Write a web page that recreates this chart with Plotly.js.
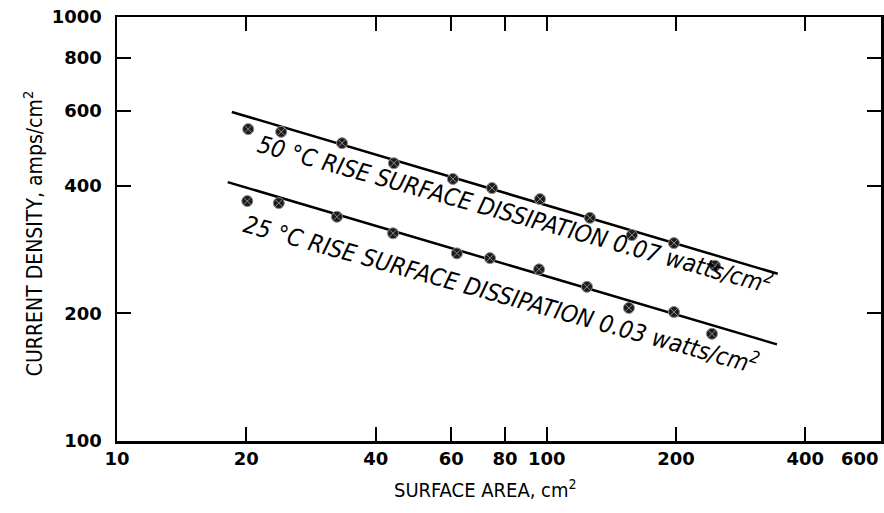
<!DOCTYPE html>
<html>
<head>
<meta charset="utf-8">
<script src="https://cdn.plot.ly/plotly-3.0.1.min.js"></script>
<style>html,body{margin:0;padding:0;background:#fff;}#chart{width:884px;height:513px;}</style>
</head>
<body>
<div id="chart"></div>
<script>
// Surface area (cm^2) and current density (amps/cm^2)
var area50 = [20.2, 24.1, 33.4, 44.1, 60.5, 74.6, 96.5, 126.1, 157.9, 197.8, 246.4];
var density50 = [544, 536, 504, 452, 415, 395, 372, 336, 306, 293, 259];
var area25 = [20.1, 23.8, 32.5, 43.9, 61.8, 73.8, 96.0, 124.1, 155.4, 197.8, 242.5];
var density25 = [368, 364, 338, 309, 277, 270, 254, 231, 206, 201.5, 179];
// Fitted straight lines (end points)
var fitArea50 = [18.5, 345];
var fitDensity50 = [597, 248];
var fitArea25 = [18.1, 343.6];
var fitDensity25 = [408, 169];

var xTickVals = [10, 20, 40, 60, 80, 100, 200, 400, 600];
var xTickText = ['10', '20', '40', '60', '80', '100', '200', '400', ''];
var xLastTick = 600;
var xLastText = '600';
var yTickVals = [100, 200, 400, 600, 800, 1000];
var yTickText = ['100', '200', '400', '600', '800', '1000'];

var label50 = '50 \u00B0C RISE SURFACE DISSIPATION 0.07 watts/cm<sup>2</sup>';
var label25 = '25 \u00B0C RISE SURFACE DISSIPATION 0.03 watts/cm<sup>2</sup>';
var xTitle = 'SURFACE AREA, cm<sup>2</sup>';
var yTitle = 'CURRENT DENSITY, amps/cm<sup>2</sup>';

var narrow = 'DejaVu Sans Condensed, Liberation Sans Narrow, sans-serif';
var tickFont = {family: 'DejaVu Sans, sans-serif', size: 18, color: '#000', weight: 'bold'};

var markerStyle = {symbol: 'circle-x', size: 11, color: '#1c1c1c', line: {color: '#8a8a8a', width: 1}};

var traces = [
  {x: fitArea50, y: fitDensity50, mode: 'lines', line: {color: '#000', width: 2.5}, hoverinfo: 'skip'},
  {x: fitArea25, y: fitDensity25, mode: 'lines', line: {color: '#000', width: 2.5}, hoverinfo: 'skip'},
  {x: area50, y: density50, mode: 'markers', marker: markerStyle},
  {x: area25, y: density25, mode: 'markers', marker: markerStyle}
];

var layout = {
  width: 884, height: 513,
  margin: {l: 117, r: 3, t: 17, b: 72},
  paper_bgcolor: '#fff', plot_bgcolor: '#fff',
  showlegend: false,
  xaxis: {
    type: 'log', range: [1, Math.log10(600)],
    tickvals: xTickVals, ticktext: xTickText,
    ticks: 'inside', ticklen: 14, tickwidth: 2, tickcolor: '#000',
    showline: true, linewidth: 2.5, linecolor: '#000', mirror: 'ticks',
    showgrid: false, zeroline: false,
    tickfont: tickFont, ticklabelstandoff: 0
  },
  yaxis: {
    type: 'log', range: [2, 3],
    tickvals: yTickVals, ticktext: yTickText,
    ticks: 'inside', ticklen: 14, tickwidth: 2, tickcolor: '#000',
    showline: true, linewidth: 2.5, linecolor: '#000', mirror: 'ticks',
    showgrid: false, zeroline: false,
    tickfont: tickFont, ticklabelstandoff: 9
  },
  annotations: [
    {xref: 'x', yref: 'paper', x: Math.log10(xLastTick), y: -0.012, xanchor: 'right', yanchor: 'top',
     text: xLastText, showarrow: false, font: tickFont},
    {xref: 'paper', yref: 'paper', x: 0.522, y: 0.538, text: label50, showarrow: false, textangle: 15.5,
     font: {family: narrow, size: 24, color: '#000', style: 'italic'}},
    {xref: 'paper', yref: 'paper', x: 0.503, y: 0.348, text: label25, showarrow: false, textangle: 15.5,
     font: {family: narrow, size: 24, color: '#000', style: 'italic'}},
    {xref: 'paper', yref: 'paper', x: 0.482, y: -0.078, yanchor: 'top', text: xTitle, showarrow: false,
     font: {family: narrow, size: 20, color: '#000'}},
    {xref: 'paper', yref: 'paper', x: -0.11, xanchor: 'center', y: 0.49, text: yTitle, showarrow: false, textangle: -90,
     font: {family: narrow, size: 21, color: '#000'}}
  ]
};

Plotly.newPlot('chart', traces, layout, {staticPlot: true, displayModeBar: false});
</script>
</body>
</html>
